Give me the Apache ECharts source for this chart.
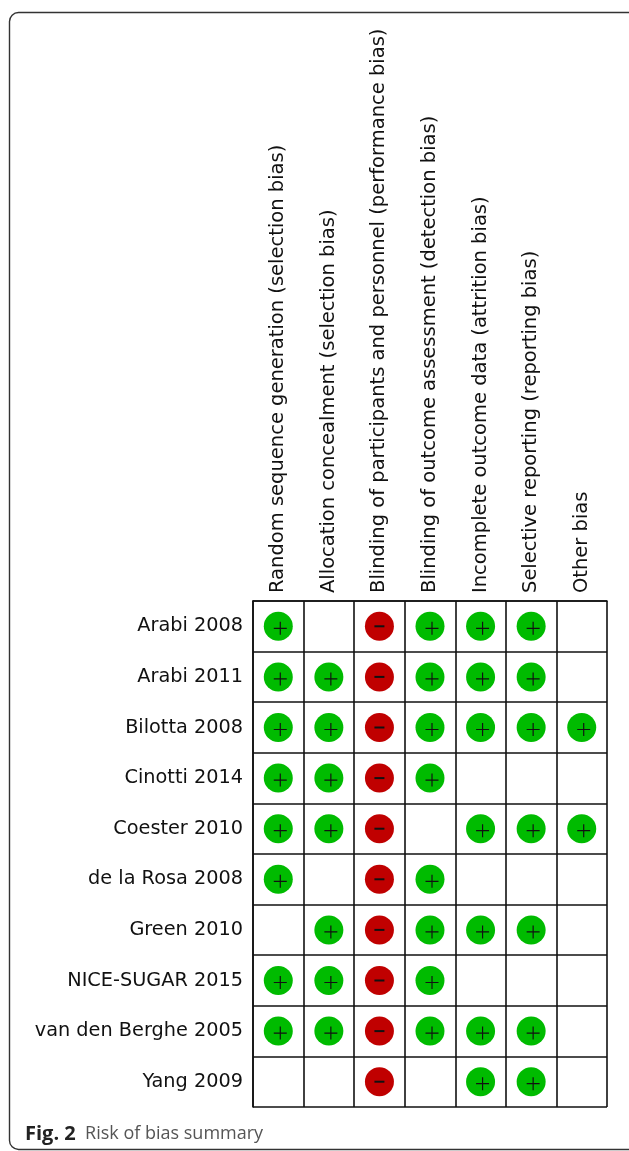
<!DOCTYPE html>
<html><head><meta charset="utf-8">
<style>html,body{margin:0;padding:0;background:#fff}#c{width:629px;height:1151px}</style>
<script src="https://cdn.jsdelivr.net/npm/echarts@6/dist/echarts.min.js"></script>
</head><body><div id="c"></div>
<script>
const domains = [
  "Random sequence generation (selection bias)",
  "Allocation concealment (selection bias)",
  "Blinding of participants and personnel (performance bias)",
  "Blinding of outcome assessment (detection bias)",
  "Incomplete outcome data (attrition bias)",
  "Selective reporting (reporting bias)",
  "Other bias"
];
const studies = ["Arabi 2008","Arabi 2011","Bilotta 2008","Cinotti 2014","Coester 2010","de la Rosa 2008","Green 2010","NICE-SUGAR 2015","van den Berghe 2005","Yang 2009"];
const arabi2008   = [1,0,-1,1,1,1,0];
const arabi2011   = [1,1,-1,1,1,1,0];
const bilotta2008 = [1,1,-1,1,1,1,1];
const cinotti2014 = [1,1,-1,1,0,0,0];
const coester2010 = [1,1,-1,0,1,1,1];
const delarosa2008= [1,0,-1,1,0,0,0];
const green2010   = [0,1,-1,1,1,1,0];
const nice2015    = [1,1,-1,1,0,0,0];
const vandenberghe2005 = [1,1,-1,1,1,1,0];
const yang2009    = [0,0,-1,0,1,1,0];
const ratings = [arabi2008,arabi2011,bilotta2008,cinotti2014,coester2010,delarosa2008,green2010,nice2015,vandenberghe2005,yang2009];

const pts = v => { const o=[]; ratings.forEach((r,i)=>r.forEach((x,j)=>{ if(x===v) o.push([domains[j],studies[i]]); })); return o; };
const plusPath = 'path://M9.1 0H10.9V9.1H20V10.9H10.9V20H9.1V10.9H0V9.1H9.1Z';
const minusPath = 'path://M0 0H20V2.4H0Z';
const mk = (data,symbol,size,color,offset,z) => ({type:'scatter',data,symbol,symbolSize:size,symbolOffset:offset,silent:true,z,itemStyle:{color,opacity:1},animation:false});
const chart = echarts.init(document.getElementById('c'),null,{renderer:'canvas'});
const lineStyle={color:'#111',width:1.6};
chart.setOption({
  animation:false,
  backgroundColor:'#fff',
  grid:{left:253,top:601,width:354,height:506,containLabel:false},
  xAxis:{type:'category',position:'top',data:domains,boundaryGap:true,
    axisLine:{show:true,lineStyle},axisTick:{show:false},
    splitLine:{show:true,interval:0,lineStyle},
    axisLabel:{interval:0,rotate:-90,margin:8,color:'#111',fontFamily:'DejaVu Sans',fontSize:19.5}},
  yAxis:{type:'category',inverse:true,data:studies,boundaryGap:true,
    axisLine:{show:true,lineStyle},axisTick:{show:false},
    splitLine:{show:true,interval:0,lineStyle},
    axisLabel:{interval:0,margin:10,color:'#111',fontFamily:'DejaVu Sans',fontSize:19.3}},
  series:[
    mk(pts(1),'circle',29,'#00bb00',[0,0],3),
    mk(pts(-1),'circle',29,'#c00000',[0,0],3),
    mk(pts(1),plusPath,13,'#111',[2,2],4),
    mk(pts(-1),minusPath,[10,2],'#111',[0,0],4)
  ],
  graphic:[
    {type:'rect',shape:{x:9.5,y:12.5,width:640,height:1137,r:9},style:{fill:'none',stroke:'#333',lineWidth:1.4},silent:true,z:1},
    {type:'text',x:25,y:1124,silent:true,style:{
      rich:{b:{fontFamily:'Open Sans',fontWeight:'bold',fontSize:20,fill:'#222',padding:[0,6,0,0]},r:{fontFamily:'Open Sans',fontSize:18,fill:'#555'}},
      text:'{b|Fig. 2} {r|Risk of bias summary}'}}
  ]
});
</script></body></html>
